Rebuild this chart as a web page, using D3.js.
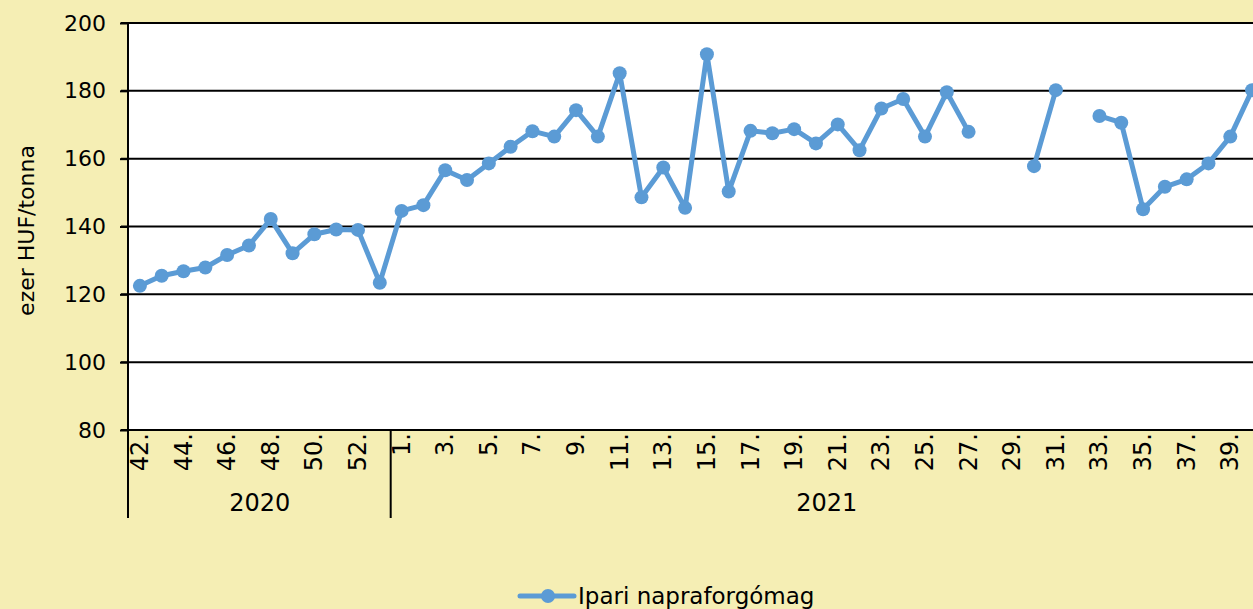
<!DOCTYPE html>
<html>
<head>
<meta charset="utf-8">
<script src="https://cdn.jsdelivr.net/npm/d3@7"></script>
<style>
  html, body { margin: 0; padding: 0; background: #f5eeb4; }
  svg { display: block; font-family: "DejaVu Sans", Arial, sans-serif; }
</style>
</head>
<body>
<div class="canvas"></div>
<script>
// years and their weeks
const years = ['2020', '2021'];
const weeks2020 = ['42.', '43.', '44.', '45.', '46.', '47.', '48.', '49.', '50.', '51.', '52.', '53.'];
const weeks2021 = ['1.', '2.', '3.', '4.', '5.', '6.', '7.', '8.', '9.', '10.',
  '11.', '12.', '13.', '14.', '15.', '16.', '17.', '18.', '19.', '20.',
  '21.', '22.', '23.', '24.', '25.', '26.', '27.', '28.', '29.', '30.',
  '31.', '32.', '33.', '34.', '35.', '36.', '37.', '38.', '39.', '40.'];

// ezer HUF/tonna
const values2020 = [122.5, 125.5, 126.8, 127.9, 131.6, 134.4, 142.2, 132.1, 137.7, 139.1, 139.0, 123.4];
const values2021 = [144.6, 146.3, 156.6, 153.7, 158.6, 163.5, 168.1, 166.5, 174.3, 166.5,
  185.2, 148.6, 157.4, 145.5, 190.8, 150.3, 168.2, 167.5, 168.7, 164.5,
  170.1, 162.5, 174.8, 177.6, 166.5, 179.6, 167.9, null, null, 157.8,
  180.2, null, 172.6, 170.6, 145.1, 151.7, 153.9, 158.6, 166.5, 180.2];

const yTicks = [80, 100, 120, 140, 160, 180, 200];
const seriesName = 'Ipari napraforgómag';
const yTitle = 'ezer HUF/tonna';

const lineColor = '#5b9bd5';

// build rows from the arrays
const rows = [];
weeks2020.forEach((w, i) => rows.push({ key: '2020-' + w, year: '2020', week: w, i: i, value: values2020[i] }));
weeks2021.forEach((w, i) => rows.push({ key: '2021-' + w, year: '2021', week: w, i: i, value: values2021[i] }));

const width = 1253, height = 609;
const margin = { top: 23, left: 129, bottom: 179 };
const plotRight = 1263;
const graphHeight = height - margin.top - margin.bottom;

const svg = d3.select('.canvas')
  .append('svg')
    .attr('width', width)
    .attr('height', height);

const x = d3.scaleBand()
  .domain(rows.map(d => d.key))
  .range([margin.left, plotRight]);

const y = d3.scaleLinear()
  .domain([80, 200])
  .range([margin.top + graphHeight, margin.top]);

//plot background
svg.append('rect')
  .attr('x', margin.left)
  .attr('y', y(200))
  .attr('width', plotRight - margin.left)
  .attr('height', y(80) - y(200))
  .attr('fill', '#ffffff');

//gridlines
svg.append('g')
  .selectAll('line')
  .data(yTicks)
  .join('line')
    .attr('x1', margin.left - 8)
    .attr('x2', plotRight)
    .attr('y1', d => y(d))
    .attr('y2', d => y(d))
    .attr('stroke', '#000')
    .attr('stroke-width', 2);

//y axis
const yAxisGroup = svg.append('g')
  .attr('transform', `translate(${margin.left - 1}, 0)`)
  .call(d3.axisLeft(y).tickValues(yTicks).tickSize(8).tickPadding(14));
yAxisGroup.select('.domain').remove();
yAxisGroup.selectAll('line').attr('stroke', '#000').attr('stroke-width', 2);
yAxisGroup.selectAll('text')
  .attr('font-size', '22px')
  .attr('fill', '#000')
  .attr('font-family', '"DejaVu Sans", Arial, sans-serif');

//left axis line running down through the category groups
const groupBottom = 518;
svg.append('line')
  .attr('x1', margin.left - 1).attr('x2', margin.left - 1)
  .attr('y1', y(200)).attr('y2', groupBottom)
  .attr('stroke', '#000').attr('stroke-width', 2);

//y title
svg.append('text')
  .attr('transform', `translate(34, ${(y(200) + y(80)) / 2 + 4}) rotate(-90)`)
  .attr('text-anchor', 'middle')
  .attr('font-size', '22px')
  .text(yTitle);

//week labels, every other one
svg.append('g')
  .selectAll('text')
  .data(rows.filter(d => d.i % 2 === 0))
  .join('text')
    .attr('transform', d => `translate(${x(d.key) + x.bandwidth() / 2 + 8}, ${y(80) + 3}) rotate(-90)`)
    .attr('text-anchor', 'end')
    .attr('font-size', '24px')
    .text(d => d.week);

//year groups
years.forEach(yr => {
  const yrRows = rows.filter(d => d.year === yr);
  const x0 = x(yrRows[0].key);
  const x1 = x(yrRows[yrRows.length - 1].key) + x.bandwidth();
  svg.append('line')
    .attr('x1', x1).attr('x2', x1)
    .attr('y1', y(80)).attr('y2', groupBottom)
    .attr('stroke', '#000').attr('stroke-width', 2);
  svg.append('text')
    .attr('x', (x0 + x1) / 2)
    .attr('y', 511)
    .attr('text-anchor', 'middle')
    .attr('font-size', '24px')
    .text(yr);
});

//line
const line = d3.line()
  .defined(d => d.value != null)
  .x(d => x(d.key) + x.bandwidth() / 2)
  .y(d => y(d.value));

svg.append('path')
  .datum(rows)
  .attr('fill', 'none')
  .attr('stroke', lineColor)
  .attr('stroke-width', 5)
  .attr('stroke-linejoin', 'round')
  .attr('d', line);

svg.append('g')
  .selectAll('circle')
  .data(rows.filter(d => d.value != null))
  .join('circle')
    .attr('cx', d => x(d.key) + x.bandwidth() / 2)
    .attr('cy', d => y(d.value))
    .attr('r', 7)
    .attr('fill', lineColor);

//legend
const legend = svg.append('g').attr('transform', 'translate(520, 596)');
legend.append('line')
  .attr('x1', 0).attr('x2', 54)
  .attr('stroke', lineColor).attr('stroke-width', 5).attr('stroke-linecap', 'round');
legend.append('circle')
  .attr('cx', 28).attr('r', 7).attr('fill', lineColor);
legend.append('text')
  .attr('x', 58).attr('y', 8)
  .attr('font-size', '23px')
  .text(seriesName);
</script>
</body>
</html>
